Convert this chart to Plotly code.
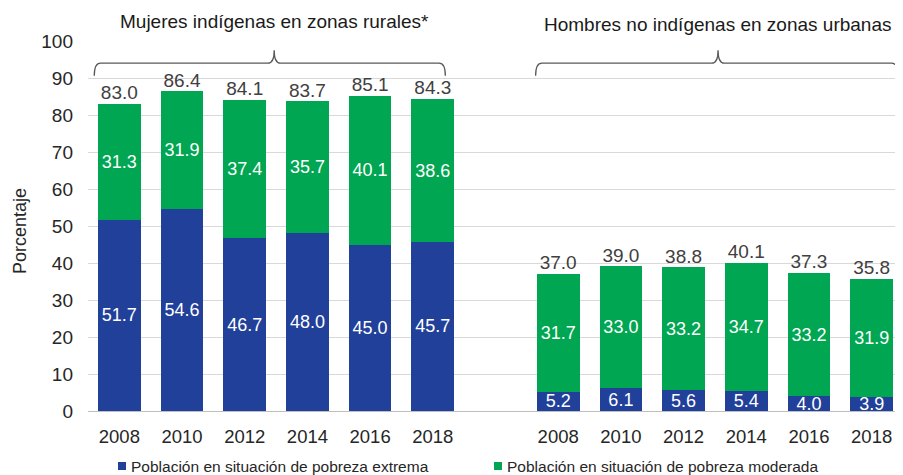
import plotly.graph_objects as go

years = ["2008", "2010", "2012", "2014", "2016", "2018"]
group_titles = ["Mujeres indígenas en zonas rurales*", "Hombres no indígenas en zonas urbanas"]

women_extreme = [51.7, 54.6, 46.7, 48.0, 45.0, 45.7]
women_moderate = [31.3, 31.9, 37.4, 35.7, 40.1, 38.6]
women_total = [83.0, 86.4, 84.1, 83.7, 85.1, 84.3]

men_extreme = [5.2, 6.1, 5.6, 5.4, 4.0, 3.9]
men_moderate = [31.7, 33.0, 33.2, 34.7, 33.2, 31.9]
men_total = [37.0, 39.0, 38.8, 40.1, 37.3, 35.8]

legend_names = ["Población en situación de pobreza extrema",
                "Población en situación de pobreza moderada"]

BLUE = "#21409A"
GREEN = "#00A651"
TXT = "#262626"
FONT = "Liberation Sans, Arial, sans-serif"
GAP = 7  # second group starts after one empty slot

xl = list(range(len(years)))
xr = [GAP + i for i in range(len(years))]
xs = xl + xr
extreme = women_extreme + men_extreme
moderate = women_moderate + men_moderate
totals = women_total + men_total

fig = go.Figure()
for vals, col, nm in [(extreme, BLUE, legend_names[0]), (moderate, GREEN, legend_names[1])]:
    fig.add_trace(go.Bar(
        x=xs, y=vals, name=nm, marker=dict(color=col, line=dict(width=0)), width=0.68,
        text=[f"{v:.1f}" for v in vals], textposition="inside",
        insidetextanchor="middle", constraintext="none",
        textfont=dict(color="white", size=18, family=FONT),
        showlegend=False,
    ))
fig.add_trace(go.Scatter(
    x=xs, y=totals, mode="text", text=[f"{v:.1f}" for v in totals],
    textposition="top center", showlegend=False, cliponaxis=False,
    textfont=dict(color="#404040", size=19, family=FONT),
    hoverinfo="skip",
))

# braces
def brace(x0, x1, xm, ymid=94.0, ytip=97.5, yend=90.6):
    r = 0.1
    return (f"M {x0} {yend} Q {x0} {ymid} {x0 + r} {ymid} "
            f"L {xm - r} {ymid} Q {xm} {ymid} {xm} {ytip} "
            f"Q {xm} {ymid} {xm + r} {ymid} "
            f"L {x1 - r} {ymid} Q {x1} {ymid} {x1} {yend}")

fig.add_shape(type="path", path=brace(-0.40, 5.20, 2.47), xref="x", yref="y",
              line=dict(color="#595959", width=1.3))
fig.add_shape(type="path", path=brace(6.64, 12.42, 9.55), xref="x", yref="y",
              line=dict(color="#595959", width=1.3))

fig.add_annotation(x=2.47, xref="x", y=1.0, yref="paper", yshift=20, yanchor="middle",
                   xanchor="center", text=group_titles[0], showarrow=False,
                   font=dict(size=19, color="#1a1a1a", family=FONT))
fig.add_annotation(x=9.55, xref="x", y=1.0, yref="paper", yshift=17, yanchor="middle",
                   xanchor="center", text=group_titles[1], showarrow=False,
                   font=dict(size=19, color="#1a1a1a", family=FONT))

# y-axis title
fig.add_annotation(x=0, xref="paper", xshift=-68, xanchor="center",
                   y=0.5, yref="paper", yshift=-5, yanchor="middle",
                   text="Porcentaje", textangle=-90, showarrow=False,
                   font=dict(size=18, color=TXT, family=FONT))

# manual legend (positions in paper units of the plot area)
leg_x = [118, 494]
for name, col, lx in zip(legend_names, [BLUE, GREEN], leg_x):
    fig.add_shape(type="rect", xref="paper", yref="paper",
                  x0=(lx - 88) / 815, x1=(lx + 8 - 88) / 815,
                  y0=(410 - 469) / 370, y1=(410 - 461) / 370,
                  fillcolor=col, line=dict(width=0))
    fig.add_annotation(x=(lx + 11 - 88) / 815, xref="paper", xanchor="left",
                       y=(410 - 465) / 370, yref="paper", yanchor="middle",
                       text=name, showarrow=False,
                       font=dict(size=15.5, color=TXT, family=FONT))

# page body has an 8px margin, so the figure is 8px smaller than the window
fig.update_layout(
    width=895, height=467,
    margin=dict(l=80, r=0, t=33, b=64),
    barmode="stack",
    plot_bgcolor="white", paper_bgcolor="white",
    font=dict(family=FONT, color=TXT),
    uniformtext=dict(minsize=18, mode="show"),
    showlegend=False,
)
fig.update_xaxes(
    range=[-0.5, 12.5], tickvals=xs, ticktext=years + years,
    showgrid=False, zeroline=False, showline=False, ticks="",
    tickfont=dict(size=18.5, family=FONT, color=TXT), ticklabelstandoff=12,
    automargin=False,
)
fig.update_yaxes(
    range=[0, 100], dtick=10, showgrid=True, gridcolor="#D9D9D9", gridwidth=1,
    zeroline=True, zerolinecolor="#BFBFBF", zerolinewidth=1,
    tickfont=dict(size=19, color=TXT, family=FONT), ticks="", ticklabelstandoff=14,
    automargin=False,
)

fig.write_html("out.html")
